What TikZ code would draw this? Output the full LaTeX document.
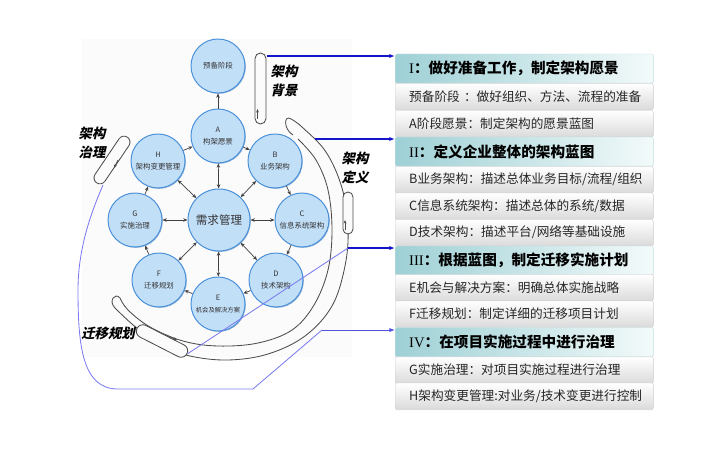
\documentclass[tikz,border=0pt]{standalone}
\usepackage{fontspec}
\setmainfont{Noto Sans CJK SC}
\newfontfamily\romfont{Liberation Serif}
\newfontfamily\slfont[FakeSlant=0.22]{Noto Sans CJK SC}
\usepackage{tikz}
\usetikzlibrary{arrows.meta,calc,shadows,shapes.misc}
\definecolor{phasefill}{HTML}{C2DFF8}
\definecolor{phaseline}{HTML}{4A90D9}
\definecolor{hdrteal}{HTML}{9ED0D5}
\definecolor{hdrpale}{HTML}{F3FAFA}
\definecolor{deepblue}{HTML}{1414C8}
\definecolor{lilac}{HTML}{7C7CF0}
\definecolor{linkgray}{HTML}{404040}

\begin{document}
\begin{tikzpicture}[x=0.025cm,y=-0.025cm,
  phase/.style={circle,draw=phaseline,line width=0.7pt,fill=phasefill,minimum size=1.35cm,
    inner sep=0pt,align=center,text=black!80,font=\fontsize{5.3}{8}\selectfont,
    drop shadow={shadow xshift=0.6pt,shadow yshift=-0.6pt,fill=phaseline!80!black,opacity=0.5}},
  link/.style={draw=linkgray,line width=0.5pt,{Stealth[length=3pt,width=2.5pt]}-{Stealth[length=3pt,width=2.5pt]}},
  cyc/.style={draw=linkgray,line width=0.5pt,-{Stealth[length=3pt,width=2.5pt]}},
  hdr/.style={anchor=west,minimum height=0.725cm,text width=5.75cm,inner xsep=0.35cm,inner ysep=0pt,
    left color=hdrteal,right color=hdrpale,draw=hdrteal!60!white,line width=0.3pt,rounded corners=1pt,
    font=\fontsize{10.4}{12}\selectfont\bfseries,
    drop shadow={opacity=0.25,shadow xshift=0pt,shadow yshift=-0.8pt}},
  row/.style={anchor=west,minimum height=0.65cm,text width=5.75cm,inner xsep=0.35cm,inner ysep=0pt,
    top color=white,bottom color=black!14,draw=black!18,line width=0.3pt,rounded corners=1pt,
    text=black!85,font=\fontsize{9}{10}\selectfont,
    drop shadow={opacity=0.25,shadow xshift=0pt,shadow yshift=-0.8pt}},
  capsule/.style={rounded rectangle,draw=black!70,line width=0.6pt,fill=black!1.5,inner sep=0pt},
  band/.style={draw=black!70,line width=0.6pt},
  tick/.style={draw=black!70,line width=0.5pt,-{Stealth[length=2.5pt,width=2pt]}},
  tag/.style={font=\slfont\bfseries\fontsize{9.5}{13.5}\selectfont,align=center,inner sep=0pt},
  feed/.style={draw=deepblue,line width=1pt,-{Latex[length=4pt,width=3pt]}},
  thread/.style={draw=lilac,line width=0.6pt}]
  \useasboundingbox (0,0) rectangle (720,454);
  \fill[black!1.5] (82,39) rectangle (352,357);

  % Outer sweep round the cycle
  \draw[band] plot[smooth,tension=0.6] coordinates {(298,139) (316,160) (328,190) (332,230) (328,270)
      (314,305) (292,330) (258,343) (218,346) (183,341) (150,327) (128,310) (120,298)}
    .. controls (115,292) and (108,301) .. (115,308)
    -- plot[smooth,tension=0.6] coordinates {(115,308) (138,329) (165,346) (190,356) (228,360)
      (268,354) (305,336) (332,306) (345,266) (348,228) (342,188) (326,152) (302,127) (291,119)}
    .. controls (284,114) and (283,129) .. (293,135);

  % Capsules
  \node[capsule,rotate=90,minimum width=1.775cm,minimum height=0.275cm] (bgcap) at (260.5,88.5) {};
  \node[capsule,rotate=90,minimum width=1.05cm,minimum height=0.25cm] (defcap) at (348,213) {};
  \node[capsule,rotate=56,minimum width=1.375cm,minimum height=0.3cm] (govcap) at (112,160) {};
  \node[capsule,rotate=-27,minimum width=1.4cm,minimum height=0.325cm] (migcap) at (162,341) {};
  \draw[tick] (257.5,119) -- (257.5,109);
  \draw[tick] (345,230) -- (345,220);
  \draw[tick] (118,160) -- (114,168);
  \draw[tick] (166,335) -- (177,340);

  % Phase circles
  \node[phase] (pre) at (218,66) {预备阶段};
  \node[phase] (A) at (218,136) {A\\构架愿景};
  \node[phase] (B) at (275,161) {B\\业务架构};
  \node[phase] (C) at (302,220) {C\\信息系统架构};
  \node[phase] (D) at (276,280) {D\\技术架构};
  \node[phase] (E) at (218,304) {E\\{\fontsize{4.5}{6}\selectfont 机会及解决方案}};
  \node[phase] (F) at (159,280) {F\\迁移规划};
  \node[phase] (G) at (135,220) {G\\实施治理};
  \node[phase] (H) at (158,161) {H\\架构变更管理};
  \node[phase,minimum size=1.55cm,font=\fontsize{8.2}{9}\selectfont] (core) at (219,220) {需求管理};

  \draw[cyc] (A) -- (pre);
  \draw[cyc] (A) -- (B);
  \draw[cyc] (B) -- (C);
  \draw[cyc] (C) -- (D);
  \draw[cyc] (D) -- (E);
  \draw[cyc] (E) -- (F);
  \draw[cyc] (F) -- (G);
  \draw[cyc] (G) -- (H);
  \draw[cyc] (H) -- (A);
  \draw[link] (core) -- (A);
  \draw[link] (core) -- (B);
  \draw[link] (core) -- (C);
  \draw[link] (core) -- (D);
  \draw[link] (core) -- (E);
  \draw[link] (core) -- (F);
  \draw[link] (core) -- (G);
  \draw[link] (core) -- (H);

  % Stage labels
  \node[tag] (bgtag) at (284,81) {架构\\背景};
  \node[tag] (govtag) at (92,143) {架构\\治理};
  \node[tag] (deftag) at (355,168) {架构\\定义};
  \node[tag] (migtag) at (108,333) {迁移规划};

  % Right-hand panels
  \node[hdr] (h1) at (395,68.5) {{\romfont\mdseries I}：做好准备工作，制定架构愿景};
  \node[row] (rpre) at (395,96.5) {预备阶段~：做好组织、方法、流程的准备};
  \node[row] (rA) at (395,123.5) {A阶段愿景：制定架构的愿景蓝图};
  \node[hdr] (h2) at (395,151.5) {{\romfont\mdseries II}：定义企业整体的架构蓝图};
  \node[row] (rB) at (395,179.5) {B业务架构：描述总体业务目标/流程/组织};
  \node[row] (rC) at (395,206) {C信息系统架构：描述总体的系统/数据};
  \node[row] (rD) at (395,232.5) {D技术架构：描述平台/网络等基础设施};
  \node[hdr] (h3) at (395,260.5) {{\romfont\mdseries III}：根据蓝图，制定迁移实施计划};
  \node[row] (rE) at (395,287.5) {E机会与解决方案：明确总体实施战略};
  \node[row] (rF) at (395,314) {F迁移规划：制定详细的迁移项目计划};
  \node[hdr] (h4) at (395,342) {{\romfont\mdseries IV}：在项目实施过程中进行治理};
  \node[row] (rG) at (395,370) {G实施治理：对项目实施过程进行治理};
  \node[row] (rH) at (395,396) {H架构变更管理:对业务/技术变更进行控制};

  % Feeds to the panels
  \coordinate (bgtip) at (267,56);
  \coordinate (deftip) at (315,139);
  \coordinate (migbend) at (348,248);
  \coordinate (govtip) at (103,185);
  \coordinate (govbend) at (322,330);
  \draw[feed] (bgtip) -- (h1.west |- bgtip);
  \draw[feed] (deftip) -- (h2.west |- deftip);
  \draw[thread] (migcap.east) -- (migbend);
  \draw[feed] (migbend) -- (h3.west |- migbend);
  \draw[thread] (govtip) .. controls (90,215) and (78,250) .. (78,290)
    .. controls (78,345) and (82,389) .. (118,389) -- (253,389) -- (govbend);
  \draw[feed,draw=lilac!60!deepblue,line width=0.7pt] (govbend) -- (h4.west |- govbend);
\end{tikzpicture}
\end{document}
